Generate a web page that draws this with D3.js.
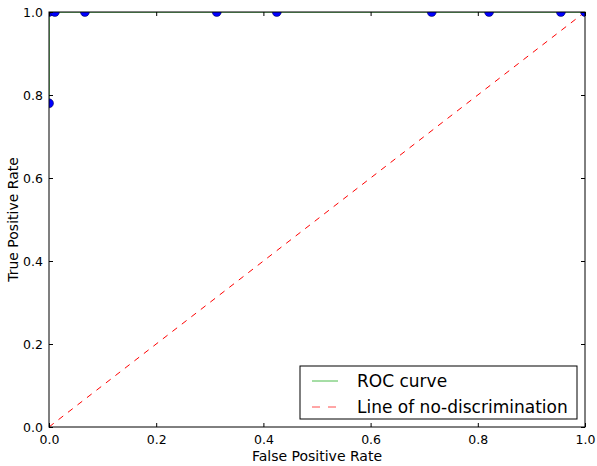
<!DOCTYPE html>
<html>
<head>
<meta charset="utf-8">
<script src="https://cdn.jsdelivr.net/npm/d3@7"></script>
<style>
  body { margin: 0; background: #fff; }
  text { font-family: "DejaVu Sans", sans-serif; }
</style>
</head>
<body>
<div id="chart-area"></div>
<script>
// ROC points
var fpr = [0, 0, 0.011, 0.067, 0.313, 0.425, 0.714, 0.821, 0.955, 1.0];
var tpr = [0.78, 1, 1, 1, 1, 1, 1, 1, 1, 1];
var diagX = [0, 1];
var diagY = [0, 1];
var tickVals = [0, 0.2, 0.4, 0.6, 0.8, 1.0];
var legendLabels = ["ROC curve", "Line of no-discrimination"];

var margin = {left : 49, right : 12, top : 12, bottom : 39};
var width = 597 - margin.left - margin.right;
var height = 466 - margin.top - margin.bottom;

var svg = d3.select("#chart-area")
  .append("svg")
  .attr("width", 597)
  .attr("height", 466);

var g = svg.append("g")
  .attr("transform", "translate(" + margin.left + ", " + margin.top + ")");

var x = d3.scaleLinear().domain([0, 1]).range([0, width]);
var y = d3.scaleLinear().domain([0, 1]).range([height, 0]);

svg.append("defs").append("clipPath").attr("id", "clip")
  .append("rect").attr("width", width).attr("height", height);

var plot = g.append("g").attr("clip-path", "url(#clip)");

var pts = fpr.map((d, i) => ({x: d, y: tpr[i]}));

plot.append("path")
  .datum(pts)
  .attr("fill", "none")
  .attr("stroke", "#00a000")
  .attr("stroke-width", 1)
  .attr("d", d3.line().x(d => x(d.x)).y(d => y(d.y)));

plot.append("path")
  .datum(diagX.map((d, i) => ({x: d, y: diagY[i]})))
  .attr("fill", "none")
  .attr("stroke", "#ff0000")
  .attr("stroke-width", 1)
  .attr("stroke-dasharray", "6,6")
  .attr("d", d3.line().x(d => x(d.x)).y(d => y(d.y)));

plot.selectAll("circle").data(pts).enter().append("circle")
  .attr("cx", d => x(d.x))
  .attr("cy", d => y(d.y))
  .attr("r", 4.5)
  .attr("fill", "#0000ff")
  .attr("stroke", "#000033")
  .attr("stroke-width", 0.5);

// axes, ticks pointing inward, on all four sides
var fmt = d3.format(".1f");
function styleAxis(sel) {
  sel.select(".domain").remove();
  sel.selectAll(".tick line").attr("stroke", "#000");
  sel.selectAll(".tick text").attr("font-size", "12.5px").attr("fill", "#000")
    .attr("font-family", "DejaVu Sans, sans-serif");
}

g.append("g")
  .attr("transform", "translate(0, " + height + ")")
  .call(d3.axisBottom(x).tickValues(tickVals).tickFormat(fmt).tickSizeInner(-4).tickPadding(8))
  .call(styleAxis);

g.append("g")
  .call(d3.axisLeft(y).tickValues(tickVals).tickFormat(fmt).tickSizeInner(-4).tickPadding(6))
  .call(styleAxis);

g.append("g")
  .call(d3.axisTop(x).tickValues(tickVals).tickFormat("").tickSizeInner(-4))
  .call(styleAxis);

g.append("g")
  .attr("transform", "translate(" + width + ", 0)")
  .call(d3.axisRight(y).tickValues(tickVals).tickFormat("").tickSizeInner(-4))
  .call(styleAxis);

g.append("rect")
  .attr("width", width)
  .attr("height", height)
  .attr("fill", "none")
  .attr("stroke", "#000")
  .attr("stroke-width", 1);

g.append("text")
  .attr("x", width / 2)
  .attr("y", height + 34)
  .attr("font-size", "14px")
  .attr("text-anchor", "middle")
  .text("False Positive Rate");

g.append("text")
  .attr("x", -(height / 2))
  .attr("y", -31)
  .attr("font-size", "14px")
  .attr("text-anchor", "middle")
  .attr("transform", "rotate(-90)")
  .text("True Positive Rate");

// legend
var lg = g.append("g").attr("transform", "translate(" + (300 - margin.left) + ", " + (366 - margin.top) + ")");
lg.append("rect")
  .attr("width", 277)
  .attr("height", 53)
  .attr("fill", "#fff")
  .attr("stroke", "#000")
  .attr("stroke-width", 1);

var legendColors = ["#00a000", "#ff0000"];
var legendDash = [null, "8,8"];
legendLabels.forEach((lab, i) => {
  var yy = 15 + i * 26;
  lg.append("line")
    .attr("x1", 12).attr("x2", 38)
    .attr("y1", yy).attr("y2", yy)
    .attr("stroke", legendColors[i])
    .attr("stroke-opacity", 0.7)
    .attr("stroke-dasharray", legendDash[i]);
  lg.append("text")
    .attr("x", 57)
    .attr("y", yy + 6)
    .attr("font-size", "17px")
    .text(lab);
});
</script>
</body>
</html>
